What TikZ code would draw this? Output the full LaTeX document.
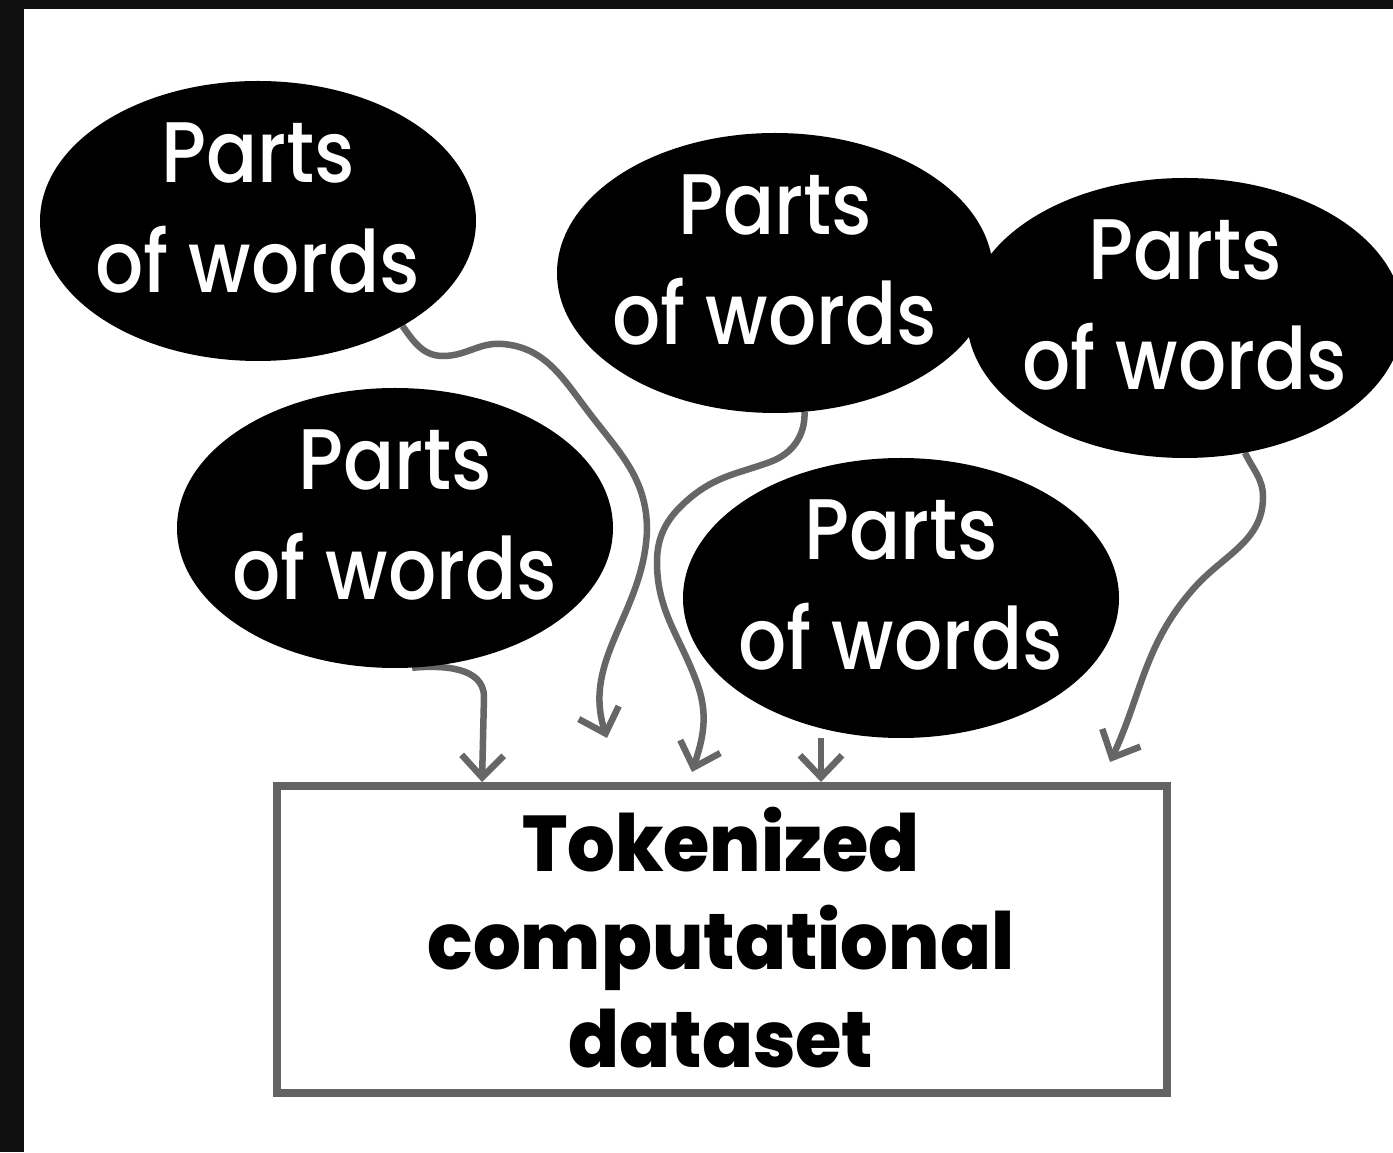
\documentclass[tikz,border=0pt]{standalone}
\usepackage{fontspec}
\newfontfamily\wordfont[FakeStretch=0.88]{Poppins Medium}
\newfontfamily\boxfont[FakeStretch=0.95]{Poppins ExtraBold}
\usetikzlibrary{shapes.geometric,arrows.meta}
\definecolor{edgedark}{HTML}{0F0F0F}
\definecolor{wiregrey}{HTML}{666666}
\definecolor{boxgrey}{HTML}{636363}
\pgfdeclarelayer{paper}
\pgfdeclarelayer{wires}
\pgfsetlayers{paper,wires,main}

\begin{document}
\begin{tikzpicture}[x=1pt,y=1pt,
  blob/.style={ellipse, fill=black, minimum width=436pt, minimum height=280pt, inner sep=0pt},
  blobtext/.style={text=white, align=center, inner sep=0pt,
    font=\wordfont\fontsize{86}{110}\selectfont},
  sink/.style={draw=boxgrey, line width=8pt, minimum width=890pt, minimum height=307pt, inner sep=0pt},
  sinktext/.style={align=center, inner sep=0pt,
    font=\boxfont\fontsize{79}{98}\selectfont},
  feed/.style={draw=wiregrey, line width=6.5pt, -{Straight Barb[length=22pt,width=42pt]}}
]
\useasboundingbox (0,0) rectangle (1393,1152);

% paper with a dark frame along the top and left
\begin{pgfonlayer}{paper}
  \fill[edgedark] (0,0) rectangle (1393,1152);
  \fill[white] (24,0) rectangle (1393,1143);
\end{pgfonlayer}

% word-part bubbles
\node[blob] (e1) at (258,931) {};
\node[blob] (e2) at (775,879) {};
\node[blob] (e3) at (1185,834) {};
\node[blob] (e4) at (395,624) {};
\node[blob] (e5) at (901,554) {};

\node[blobtext] (t1) at (258,944) {Parts\\of words};
\node[blobtext] (t2) at (775,892) {Parts\\of words};
\node[blobtext] (t3) at (1185,847) {Parts\\of words};
\node[blobtext] (t4) at (395,637) {Parts\\of words};
\node[blobtext] (t5) at (901,567) {Parts\\of words};

% target box
\node[sink] (data) at (721.5,212) {};
\node[sinktext] (datatext) at (721,214) {Tokenized\\computational\\dataset};

% arrow tips above the box
\coordinate (h1) at (607,414);
\coordinate (h2) at (482,370);
\coordinate (h3) at (692,380);
\coordinate (h4) at (821,370);
\coordinate (h5) at (1110,390);

\begin{pgfonlayer}{wires}
  \draw[feed] (e1.-36) to[out=-55,in=180] (443,796) to[out=0,in=175] (503,808)
    to[out=-5,in=127] (587,742) to[out=-53,in=90] (647,622) to[out=-92,in=108] (h1);
  \draw[feed] (e4.-83) to[out=5,in=90] (484,455) -- (h2);
  \draw[feed] (e2.-78) to[out=-88,in=20] (770,690) to[out=200,in=40] (690,654)
    to[out=220,in=90] (657,590) to[out=-90,in=110] (697,469) to[out=-70,in=72] (h3);
  \draw[feed] (e5.south -| h4) -- (h4);
  \draw[feed] (e3.-66) to[out=-65,in=90] (1263,655) to[out=-90,in=48] (1195,565)
    to[out=228,in=65] (h5);
\end{pgfonlayer}
\end{tikzpicture}
\end{document}
